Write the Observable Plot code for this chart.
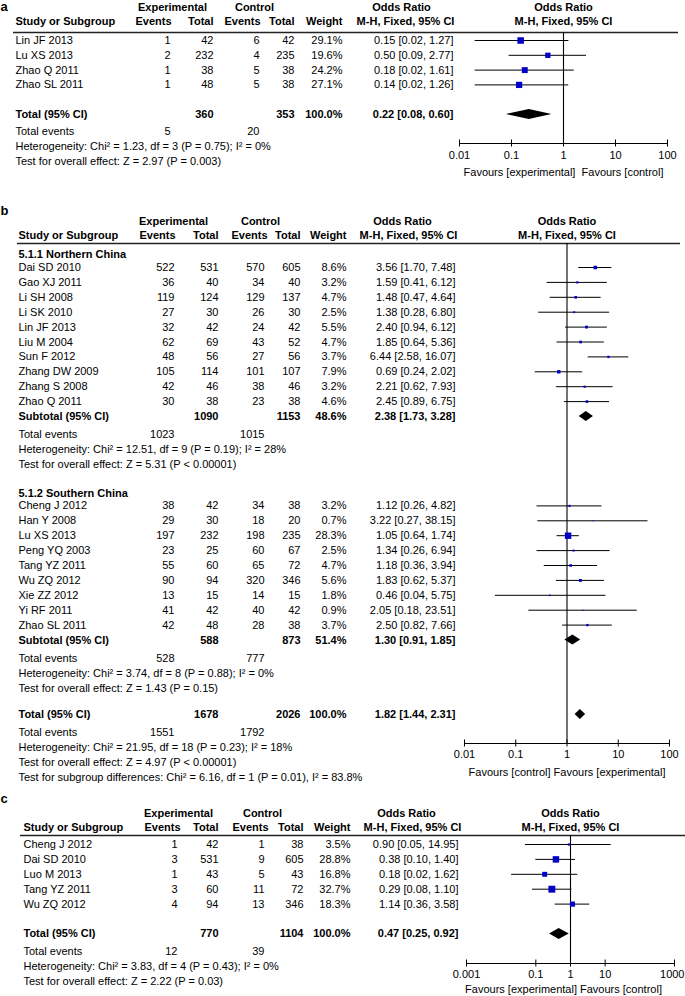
<!DOCTYPE html>
<html><head><meta charset="utf-8">
<script src="https://cdn.jsdelivr.net/npm/d3@7"></script>
<script src="https://cdn.jsdelivr.net/npm/@observablehq/plot@0.6"></script>
<style>
body{margin:0;background:#fff;}
.panel{position:relative;width:685px;overflow:hidden;}
.panel svg{position:absolute;left:0;top:0;pointer-events:none;}
</style></head><body><div id="chart"></div>
<script>
// ---------- Panel a data ----------
const aStudies = ["Lin JF 2013","Lu XS 2013","Zhao Q 2011","Zhao SL 2011"];
const aExpEvents = [1,2,1,1];
const aExpTotal = [42,232,38,48];
const aCtrlEvents = [6,4,5,5];
const aCtrlTotal = [42,235,38,38];
const aWeight = [29.1,19.6,24.2,27.1];
const aOR = [0.15,0.50,0.18,0.14];
const aLo = [0.02,0.09,0.02,0.02];
const aHi = [1.27,2.77,1.61,1.26];
const aTotal = {expTot:360, ctrlTot:353, weight:100.0, or:0.22, lo:0.08, hi:0.60, expEv:5, ctrlEv:20};
const aHet = "Heterogeneity: Chi² = 1.23, df = 3 (P = 0.75); I² = 0%";
const aTest = "Test for overall effect: Z = 2.97 (P = 0.003)";
const aTicks = [0.01,0.1,1,10,100];
const aTickLabels = ["0.01","0.1","1","10","100"];
const aFavours = "Favours [experimental]  Favours [control]";

// ---------- Panel b data ----------
const bNorthTitle = "5.1.1 Northern China";
const bNorthStudies = ["Dai SD 2010","Gao XJ 2011","Li SH 2008","Li SK 2010","Lin JF 2013","Liu M 2004","Sun F 2012","Zhang DW 2009","Zhang S 2008","Zhao Q 2011"];
const bNorthExpEvents = [522,36,119,27,32,62,48,105,42,30];
const bNorthExpTotal = [531,40,124,30,42,69,56,114,46,38];
const bNorthCtrlEvents = [570,34,129,26,24,43,27,101,38,23];
const bNorthCtrlTotal = [605,40,137,30,42,52,56,107,46,38];
const bNorthWeight = [8.6,3.2,4.7,2.5,5.5,4.7,3.7,7.9,3.2,4.6];
const bNorthOR = [3.56,1.59,1.48,1.38,2.40,1.85,6.44,0.69,2.21,2.45];
const bNorthLo = [1.70,0.41,0.47,0.28,0.94,0.64,2.58,0.24,0.62,0.89];
const bNorthHi = [7.48,6.12,4.64,6.80,6.12,5.36,16.07,2.02,7.93,6.75];
const bNorthSub = {expTot:1090, ctrlTot:1153, weight:48.6, or:2.38, lo:1.73, hi:3.28, expEv:1023, ctrlEv:1015};
const bNorthHet = "Heterogeneity: Chi² = 12.51, df = 9 (P = 0.19); I² = 28%";
const bNorthTest = "Test for overall effect: Z = 5.31 (P < 0.00001)";

const bSouthTitle = "5.1.2 Southern China";
const bSouthStudies = ["Cheng J 2012","Han Y 2008","Lu XS 2013","Peng YQ 2003","Tang YZ 2011","Wu ZQ 2012","Xie ZZ 2012","Yi RF 2011","Zhao SL 2011"];
const bSouthExpEvents = [38,29,197,23,55,90,13,41,42];
const bSouthExpTotal = [42,30,232,25,60,94,15,42,48];
const bSouthCtrlEvents = [34,18,198,60,65,320,14,40,28];
const bSouthCtrlTotal = [38,20,235,67,72,346,15,42,38];
const bSouthWeight = [3.2,0.7,28.3,2.5,4.7,5.6,1.8,0.9,3.7];
const bSouthOR = [1.12,3.22,1.05,1.34,1.18,1.83,0.46,2.05,2.50];
const bSouthLo = [0.26,0.27,0.64,0.26,0.36,0.62,0.04,0.18,0.82];
const bSouthHi = [4.82,38.15,1.74,6.94,3.94,5.37,5.75,23.51,7.66];
const bSouthSub = {expTot:588, ctrlTot:873, weight:51.4, or:1.30, lo:0.91, hi:1.85, expEv:528, ctrlEv:777};
const bSouthHet = "Heterogeneity: Chi² = 3.74, df = 8 (P = 0.88); I² = 0%";
const bSouthTest = "Test for overall effect: Z = 1.43 (P = 0.15)";

const bTotal = {expTot:1678, ctrlTot:2026, weight:100.0, or:1.82, lo:1.44, hi:2.31, expEv:1551, ctrlEv:1792};
const bHet = "Heterogeneity: Chi² = 21.95, df = 18 (P = 0.23); I² = 18%";
const bTest = "Test for overall effect: Z = 4.97 (P < 0.00001)";
const bSubDiff = "Test for subgroup differences: Chi² = 6.16, df = 1 (P = 0.01), I² = 83.8%";
const bTicks = [0.01,0.1,1,10,100];
const bTickLabels = ["0.01","0.1","1","10","100"];
const bFavours = "Favours [control] Favours [experimental]";

// ---------- Panel c data ----------
const cStudies = ["Cheng J 2012","Dai SD 2010","Luo M 2013","Tang YZ 2011","Wu ZQ 2012"];
const cExpEvents = [1,3,1,3,4];
const cExpTotal = [42,531,43,60,94];
const cCtrlEvents = [1,9,5,11,13];
const cCtrlTotal = [38,605,43,72,346];
const cWeight = [3.5,28.8,16.8,32.7,18.3];
const cOR = [0.90,0.38,0.18,0.29,1.14];
const cLo = [0.05,0.10,0.02,0.08,0.36];
const cHi = [14.95,1.40,1.62,1.10,3.58];
const cTotal = {expTot:770, ctrlTot:1104, weight:100.0, or:0.47, lo:0.25, hi:0.92, expEv:12, ctrlEv:39};
const cHet = "Heterogeneity: Chi² = 3.83, df = 4 (P = 0.43); I² = 0%";
const cTest = "Test for overall effect: Z = 2.22 (P = 0.03)";
const cTicks = [0.001,0.1,1,10,1000];
const cTickLabels = ["0.001","0.1","1","10","1000"];
const cFavours = "Favours [experimental] Favours [control]";

// ---------- helpers ----------
const FONT = "'Liberation Sans', Arial, Helvetica, sans-serif";
const BLUE = "#0000c8";

function studyRows(names, ee, et, ce, ct, w, or, lo, hi) {
  return names.map((n, i) => ({type:"study", name:n, expEv:ee[i], expTot:et[i], ctrlEv:ce[i], ctrlTot:ct[i], weight:w[i], or:or[i], lo:lo[i], hi:hi[i]}));
}
const orText = r => `${r.or.toFixed(2)} [${r.lo.toFixed(2)}, ${r.hi.toFixed(2)}]`;
const wText = w => `${w.toFixed(1)}%`;

function textMarks(items) {
  const marks = [];
  for (const anchor of ["start","middle","end"]) for (const weight of ["normal","bold"]) {
    const sub = items.filter(d => d.anchor === anchor && d.weight === weight);
    if (sub.length) marks.push(Plot.text(sub, {x:"x", y:"y", text:"text", textAnchor:anchor, fontWeight:weight, fontSize:11, lineAnchor:"middle", fill:"#000"}));
  }
  return marks;
}

function panel(cfg) {
  const div = document.createElement("div");
  div.className = "panel";
  div.style.height = cfg.height + "px";
  const rows = cfg.rows.map((r, i) => ({...r,
    y: cfg.y0 + i * cfg.rowH + (r.type === "title" ? cfg.titleDy : (r.type === "events" || r.type === "note") ? cfg.footDy : 0)}));
  const c = cfg.cols;
  const T = [];
  const add = (x, y, text, anchor, weight = "normal") => T.push({x, y, text:String(text), anchor, weight});
  // header
  add(c.expHdr, cfg.h1, "Experimental", "middle", "bold");
  add(c.ctrlHdr, cfg.h1, "Control", "middle", "bold");
  add(c.orHdr1, cfg.h1, "Odds Ratio", "middle", "bold");
  add(c.study, cfg.h2, "Study or Subgroup", "start", "bold");
  add(c.expEvH, cfg.h2, "Events", "end", "bold");
  add(c.expTot, cfg.h2, "Total", "end", "bold");
  add(c.ctrlEvH, cfg.h2, "Events", "end", "bold");
  add(c.ctrlTot, cfg.h2, "Total", "end", "bold");
  add(c.weight, cfg.h2, "Weight", "end", "bold");
  add(c.orHdr2, cfg.h2, "M-H, Fixed, 95% CI", "middle", "bold");
  for (const r of rows) {
    if (r.type === "study") {
      add(c.study, r.y, r.name, "start");
      add(c.expEv, r.y, r.expEv, "end");
      add(c.expTot, r.y, r.expTot, "end");
      add(c.ctrlEv, r.y, r.ctrlEv, "end");
      add(c.ctrlTot, r.y, r.ctrlTot, "end");
      add(c.weight, r.y, wText(r.weight), "end");
      add(c.or, r.y, orText(r), "end");
    } else if (r.type === "subtotal" || r.type === "total") {
      add(c.study, r.y, r.label, "start", "bold");
      add(c.expTot, r.y, r.expTot, "end", "bold");
      add(c.ctrlTot, r.y, r.ctrlTot, "end", "bold");
      add(c.weight, r.y, wText(r.weight), "end", "bold");
      add(c.or, r.y, orText(r), "end", "bold");
    } else if (r.type === "events") {
      add(c.study, r.y, "Total events", "start");
      add(c.expEv, r.y, r.expEv, "end");
      add(c.ctrlEv, r.y, r.ctrlEv, "end");
    } else if (r.type === "note") {
      add(c.study, r.y, r.text, "start");
    } else if (r.type === "title") {
      add(c.study, r.y, r.text, "start", "bold");
    }
  }
  const yScale = {domain:[0, cfg.height], range:[0, cfg.height], axis:null};
  const table = Plot.plot({
    width:685, height:cfg.height, margin:0,
    x:{domain:[0,685], range:[0,685], axis:null},
    y:yScale,
    style:{fontFamily:FONT, background:"none"},
    marks:[
      Plot.ruleY([cfg.lineY], {x1:cfg.lineX[0], x2:cfg.lineX[1], stroke:"#222", strokeWidth:1.5}),
      Plot.text([cfg.label], {x:cfg.labelX, y:cfg.labelY, text:d => d, textAnchor:"start", fontWeight:"bold", fontSize:13, lineAnchor:"top"}),
      ...textMarks(T)
    ]
  });
  const studies = rows.filter(r => r.type === "study");
  const dia = rows.filter(r => r.type === "subtotal" || r.type === "total").flatMap((r, k) => [
    {id:k, x:r.lo, y1:r.y, y2:r.y},
    {id:k, x:r.or, y1:r.y - cfg.diaH, y2:r.y + cfg.diaH},
    {id:k, x:r.hi, y1:r.y, y2:r.y}
  ]);
  const ax = cfg.axis;
  const lastTick = ax.ticks.length - 1;
  const forest = Plot.plot({
    width:685, height:cfg.height, margin:0,
    x:{type:"log", domain:ax.domain, range:ax.range, axis:null},
    y:yScale,
    r:{type:"sqrt", domain:[0,100], range:[0,6.8]},
    style:{fontFamily:FONT, background:"none"},
    marks:[
      Plot.ruleX([1], {y1:cfg.lineY, y2:ax.y, stroke:"#000", strokeWidth:1.1}),
      Plot.ruleY(studies, {x1:"lo", x2:"hi", y:"y", stroke:"#000", strokeWidth:1}),
      Plot.dot(studies, {x:"or", y:"y", r:"weight", symbol:"square", fill:BLUE, stroke:null}),
      Plot.areaY(dia, {x:"x", y1:"y1", y2:"y2", z:"id", fill:"#000", curve:"linear"}),
      Plot.ruleY([ax.y], {x1:ax.domain[0], x2:ax.domain[1], stroke:"#000", strokeWidth:1}),
      Plot.ruleX(ax.ticks, {x:d => d, y1:ax.y - 3.5, y2:ax.y + 3.5, stroke:"#000", strokeWidth:1}),
      Plot.text(ax.ticks.slice(0, lastTick), {x:d => d, y:ax.labelY, text:(d, i) => ax.labels[i], fontSize:11, lineAnchor:"middle"}),
      Plot.text(ax.ticks.slice(lastTick), {x:d => d, y:ax.labelY, text:() => ax.labels[lastTick], fontSize:11, lineAnchor:"middle", textAnchor:ax.lastAnchor, dx:ax.lastDx}),
      Plot.text(["Odds Ratio"], {x:1, y:cfg.h1, text:d => d, fontSize:11, fontWeight:"bold", lineAnchor:"middle"}),
      Plot.text(["M-H, Fixed, 95% CI"], {x:1, y:cfg.h2, text:d => d, fontSize:11, fontWeight:"bold", lineAnchor:"middle"}),
      Plot.text([ax.favours], {x:1, y:ax.favoursY, text:d => d, dx:ax.favoursDx, fontSize:11, lineAnchor:"middle"})
    ]
  });
  div.append(table, forest);
  return div;
}

// ---------- build panels ----------
const rowsA = [
  ...studyRows(aStudies, aExpEvents, aExpTotal, aCtrlEvents, aCtrlTotal, aWeight, aOR, aLo, aHi),
  {type:"blank"},
  {type:"total", label:"Total (95% CI)", ...aTotal},
  {type:"events", expEv:aTotal.expEv, ctrlEv:aTotal.ctrlEv},
  {type:"note", text:aHet},
  {type:"note", text:aTest}
];
const rowsB = [
  {type:"title", text:bNorthTitle},
  ...studyRows(bNorthStudies, bNorthExpEvents, bNorthExpTotal, bNorthCtrlEvents, bNorthCtrlTotal, bNorthWeight, bNorthOR, bNorthLo, bNorthHi),
  {type:"subtotal", label:"Subtotal (95% CI)", ...bNorthSub},
  {type:"events", expEv:bNorthSub.expEv, ctrlEv:bNorthSub.ctrlEv},
  {type:"note", text:bNorthHet},
  {type:"note", text:bNorthTest},
  {type:"blank"},
  {type:"title", text:bSouthTitle},
  ...studyRows(bSouthStudies, bSouthExpEvents, bSouthExpTotal, bSouthCtrlEvents, bSouthCtrlTotal, bSouthWeight, bSouthOR, bSouthLo, bSouthHi),
  {type:"subtotal", label:"Subtotal (95% CI)", ...bSouthSub},
  {type:"events", expEv:bSouthSub.expEv, ctrlEv:bSouthSub.ctrlEv},
  {type:"note", text:bSouthHet},
  {type:"note", text:bSouthTest},
  {type:"blank"},
  {type:"total", label:"Total (95% CI)", ...bTotal},
  {type:"events", expEv:bTotal.expEv, ctrlEv:bTotal.ctrlEv},
  {type:"note", text:bHet},
  {type:"note", text:bTest},
  {type:"note", text:bSubDiff}
];
const rowsC = [
  ...studyRows(cStudies, cExpEvents, cExpTotal, cCtrlEvents, cCtrlTotal, cWeight, cOR, cLo, cHi),
  {type:"blank"},
  {type:"total", label:"Total (95% CI)", ...cTotal},
  {type:"events", expEv:cTotal.expEv, ctrlEv:cTotal.ctrlEv},
  {type:"note", text:cHet},
  {type:"note", text:cTest}
];

const chart = document.getElementById("chart");
chart.append(
  panel({
    height:180, label:"a", labelX:0, labelY:1, h1:7, h2:21, lineY:32, lineX:[13,678],
    y0:40, rowH:14.8, titleDy:2, footDy:2.5, diaH:5,
    cols:{study:15, expEv:170, expEvH:171, expTot:213, ctrlEv:259, ctrlEvH:260, ctrlTot:294, weight:342, or:453, expHdr:172, ctrlHdr:254, orHdr1:401, orHdr2:405},
    rows:rowsA,
    axis:{domain:[0.01,100], range:[459,667], ticks:aTicks, labels:aTickLabels, y:143, labelY:155, favours:aFavours, favoursY:172, favoursDx:0, lastAnchor:"middle", lastDx:0}
  }),
  panel({
    height:610, label:"b", labelX:0, labelY:25, h1:41, h2:55, lineY:63, lineX:[17,680],
    y0:72.1, rowH:14.9, titleDy:2, footDy:3.5, diaH:5,
    cols:{study:18, expEv:174, expEvH:175, expTot:218, ctrlEv:264, ctrlEvH:267, ctrlTot:300, weight:346, or:455, expHdr:173, ctrlHdr:260, orHdr1:402, orHdr2:408},
    rows:rowsB,
    axis:{domain:[0.01,100], range:[464,669], ticks:bTicks, labels:bTickLabels, y:563, labelY:574, favours:bFavours, favoursY:592, favoursDx:0, lastAnchor:"middle", lastDx:0}
  }),
  panel({
    height:206, label:"c", labelX:0, labelY:3, h1:23, h2:37, lineY:45, lineX:[20,685],
    y0:54, rowH:14.9, titleDy:2, footDy:2.5, diaH:5.5,
    cols:{study:23, expEv:177, expEvH:180, expTot:218, ctrlEv:264, ctrlEvH:268, ctrlTot:303, weight:350, or:458, expHdr:178, ctrlHdr:262, orHdr1:406, orHdr2:412},
    rows:rowsC,
    axis:{domain:[0.001,1000], range:[466,674], ticks:cTicks, labels:cTickLabels, y:173, labelY:184, favours:cFavours, favoursY:198.5, favoursDx:-7, lastAnchor:"end", lastDx:10}
  })
);
</script></body></html>
